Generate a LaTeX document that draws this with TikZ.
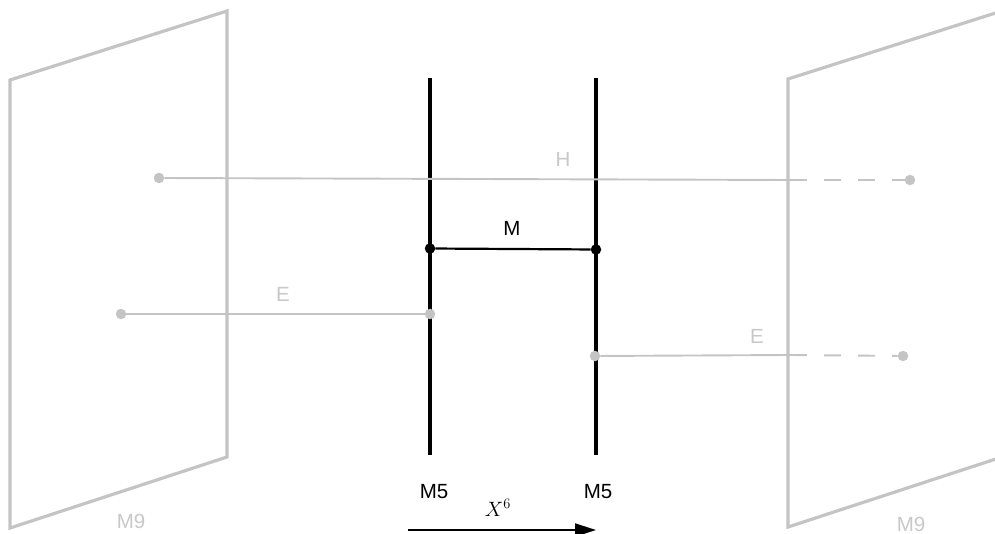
\documentclass[tikz,border=0pt]{standalone}
\usepackage{fontspec}
\setmainfont{Liberation Sans}
\usetikzlibrary{arrows.meta}
\definecolor{pl}{RGB}{196,196,196}
\definecolor{lbl}{RGB}{200,200,200}
\tikzset{
  plane/.style={draw=pl, line width=3.2pt, line join=miter},
  gline/.style={draw=pl, line width=1.9pt},
  gdash/.style={draw=pl, line width=1.9pt, dash pattern=on 17pt off 17pt},
  gdot/.style={circle, fill=pl, inner sep=0pt, minimum size=10.5pt},
  bdot/.style={circle, fill=black, inner sep=0pt, minimum size=10.5pt},
  brane/.style={draw=black, line width=3.3pt},
  mline/.style={draw=black, line width=2.2pt},
  glabel/.style={text=lbl, font=\fontsize{20.5}{20.5}\selectfont, inner sep=0pt},
  blabel/.style={text=black, font=\fontsize{20.5}{20.5}\selectfont, inner sep=0pt},
}
\begin{document}
\begin{tikzpicture}[x=1pt,y=-1pt]
\useasboundingbox (0,0) rectangle (995,534);
\clip (0,0) rectangle (995,534);
% left M9 plane
\draw[plane] (10,80) -- (227,11) -- (227,457) -- (10,528) -- cycle;
\node[glabel] (m9l) at (131,521) {M9};
% right M9 plane
\draw[plane] (788,79) -- (1005,10) -- (1005,456) -- (788,527) -- cycle;
\node[glabel] (m9r) at (911,524) {M9};
% M5 branes
\coordinate (l5t) at (430,78);
\coordinate (l5b) at (430,455);
\coordinate (r5t) at (596,78);
\coordinate (r5b) at (596,455);
\draw[brane] (l5t) -- (l5b);
\draw[brane] (r5t) -- (r5b);
% H string
\node[gdot] (hl) at (159,178) {};
\coordinate (hm) at (790,180);
\node[gdot] (hr) at (910,180) {};
\draw[gline] (hl) -- (hm);
\draw[gdash] (hm) -- (hr);
\node[glabel] (hlab) at (563,159) {H};
% E strings
\node[gdot] (el) at (121,314) {};
\node[gdot] (ea) at (430,314) {};
\draw[gline] (el) -- (ea);
\node[glabel] (elab1) at (283,294) {E};
\node[gdot] (eb) at (595,356) {};
\coordinate (em) at (790,355);
\node[gdot] (er) at (903,356) {};
\draw[gline] (eb) -- (em);
\draw[gdash] (em) -- (er);
\node[glabel] (elab2) at (757,336) {E};
% M2 string
\node[bdot] (ml) at (430,248.5) {};
\node[bdot] (mr) at (596,249.5) {};
\draw[mline] (ml) -- (mr);
\node[blabel] (mlab) at (512,228) {M};
% labels
\node[blabel] (m5l) at (434,492) {M5};
\node[blabel] (m5r) at (598,492) {M5};
% X6 arrow
\coordinate (a0) at (408,530);
\coordinate (a1) at (596,530);
\draw[line width=1.8pt, -{Triangle[length=21pt,width=13pt]}] (a0) -- (a1);
\node[inner sep=0pt, font=\fontsize{21}{21}\selectfont] (x6) at (498,508) {$X^6$};
\end{tikzpicture}
\end{document}
